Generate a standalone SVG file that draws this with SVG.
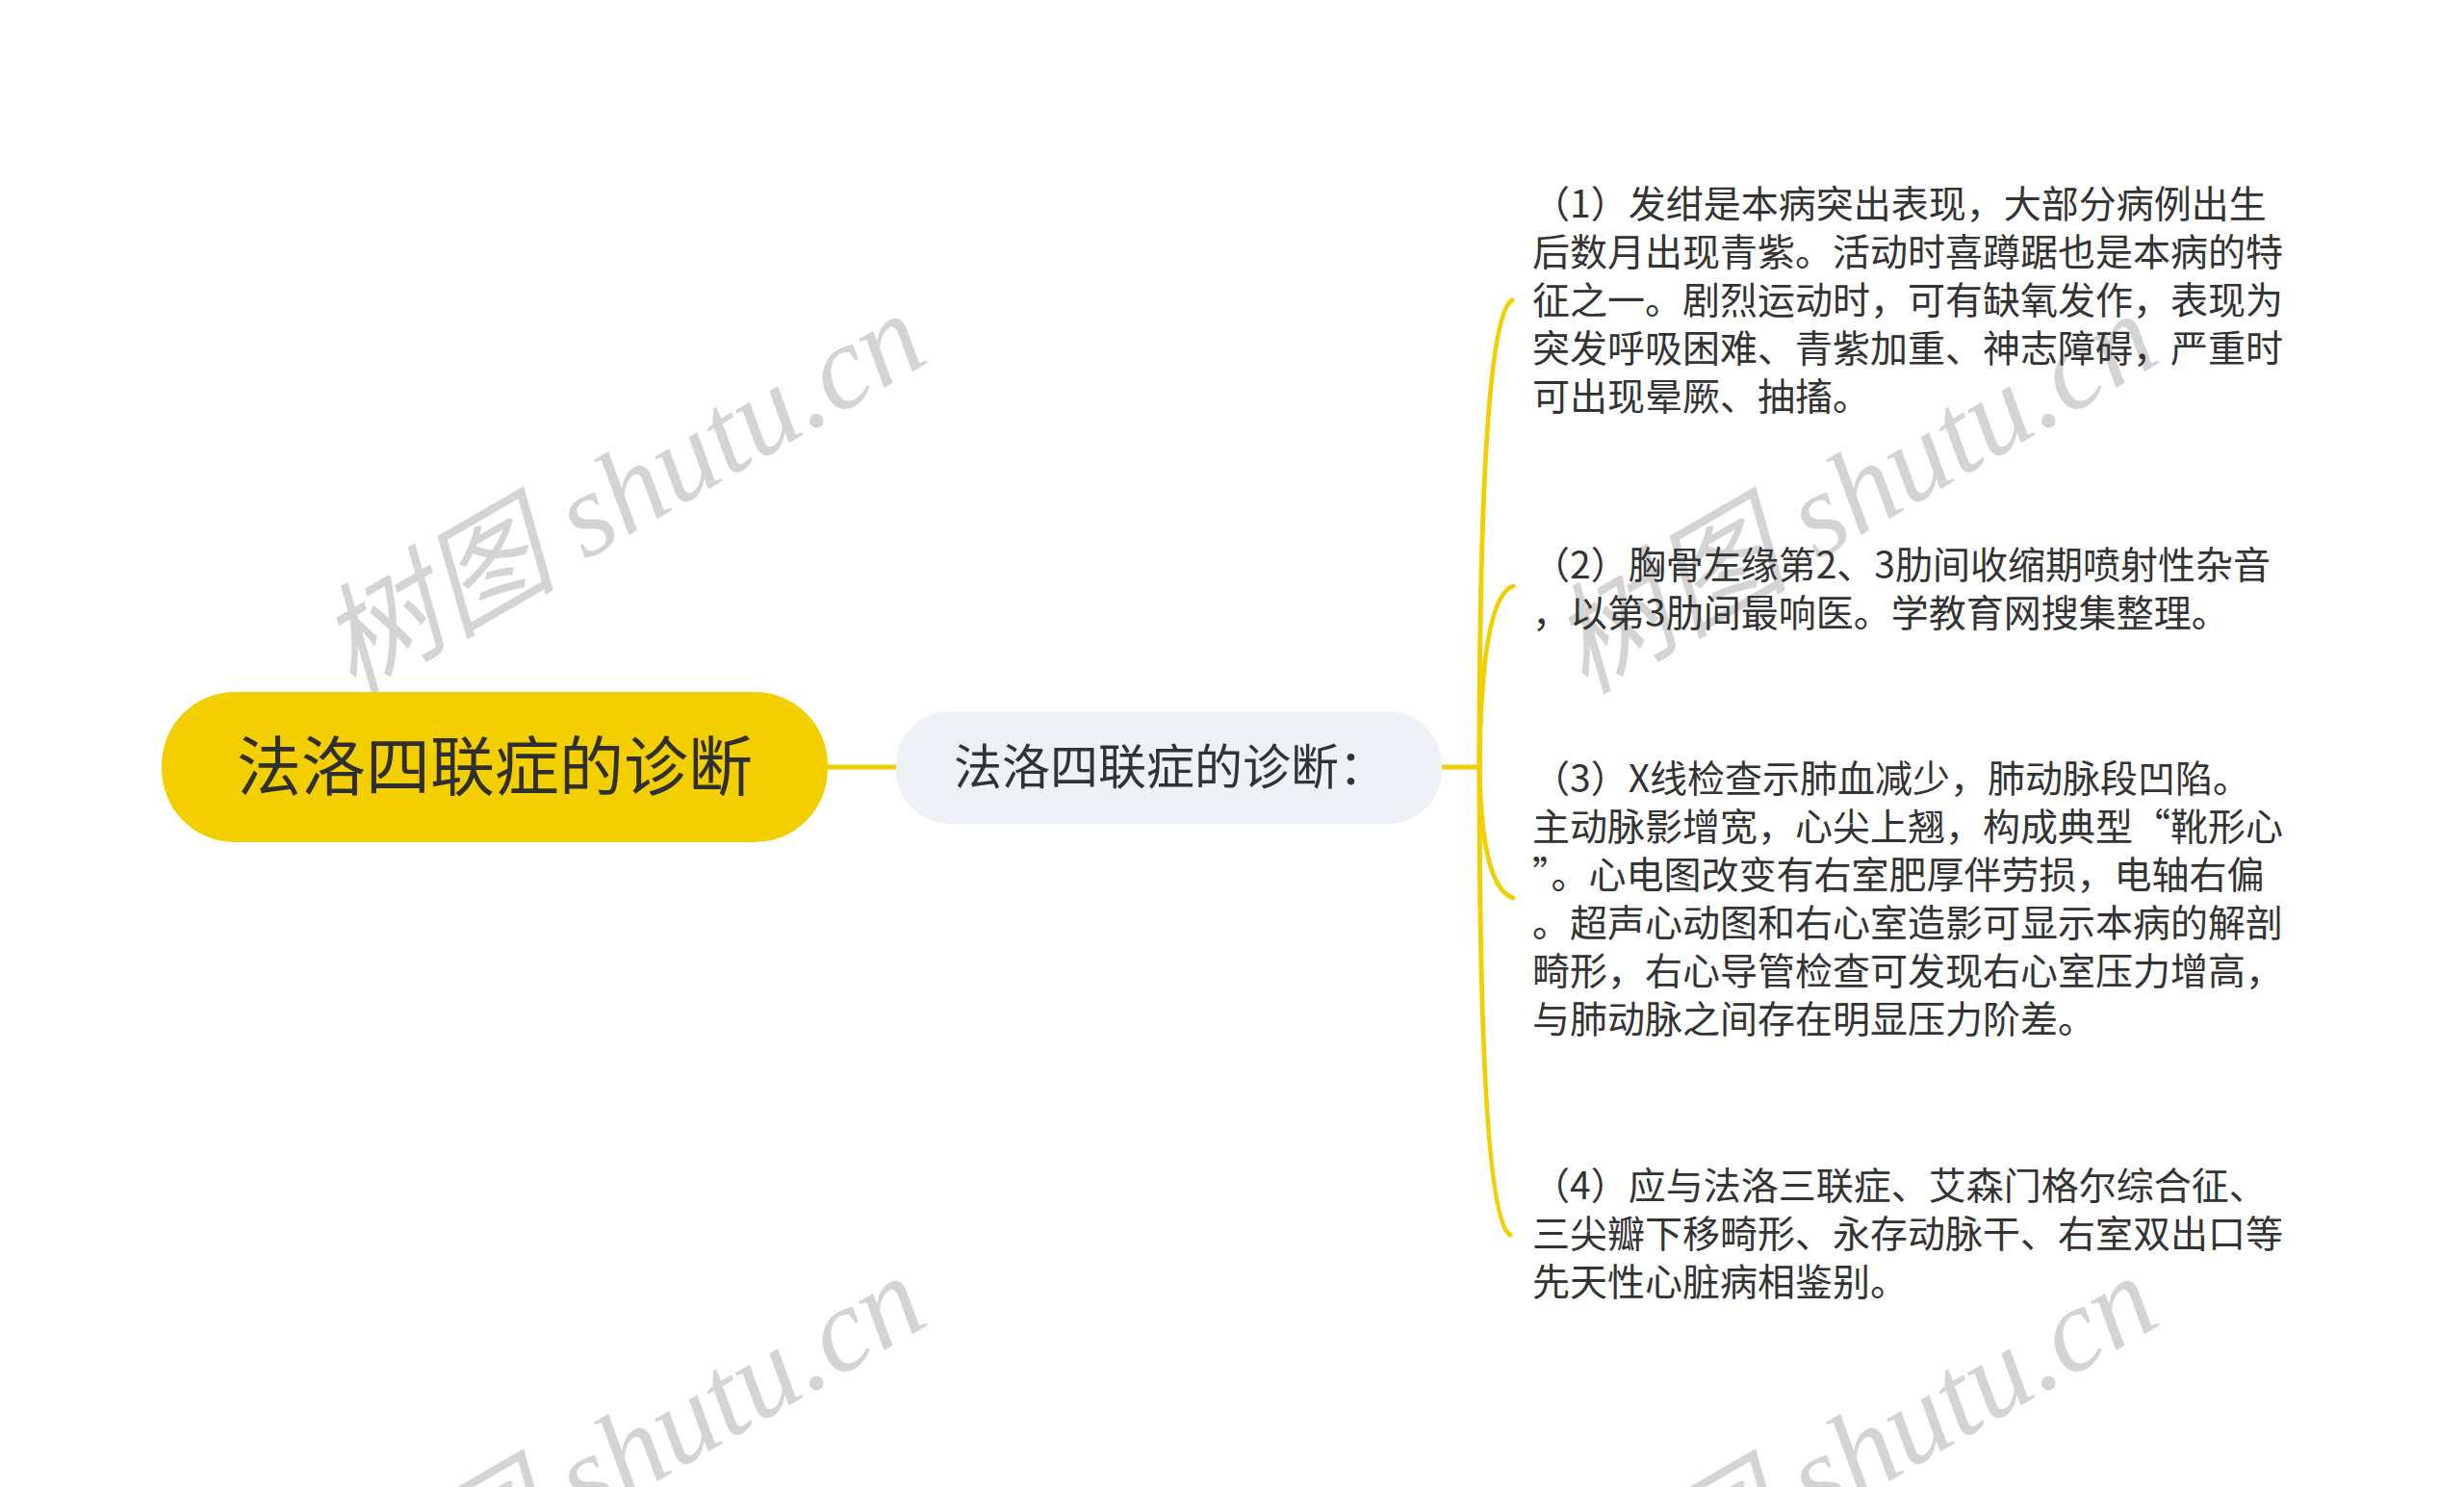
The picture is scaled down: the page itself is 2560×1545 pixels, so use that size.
<svg xmlns="http://www.w3.org/2000/svg" width="2560" height="1545" viewBox="0 0 2560 1545">
<style>
.wm{font-family:"Liberation Serif","Noto Sans CJK SC",serif;font-style:italic;font-size:124px;fill:#d4d4d4}
.conn{fill:none;stroke:#F4CF00;stroke-width:5;stroke-linecap:round}
.leaf{font-family:"Noto Sans CJK SC","Noto Sans",sans-serif;font-size:39px;fill:#333333}
.root{font-family:"Noto Sans CJK SC","Noto Sans",sans-serif;font-size:67px;fill:#2f2f2f}
.mid{font-family:"Noto Sans CJK SC","Noto Sans",sans-serif;font-size:50px;fill:#333333}
</style>
<rect x="0" y="0" width="2560" height="1545" fill="#ffffff"/>
<g id="watermarks">
<text class="wm" transform="translate(366,722) rotate(-30)">树图 shutu.cn</text>
<text class="wm" transform="translate(1646,722) rotate(-30)">树图 shutu.cn</text>
<text class="wm" transform="translate(366,1722) rotate(-30)">树图 shutu.cn</text>
<text class="wm" transform="translate(1646,1722) rotate(-30)">树图 shutu.cn</text>
</g>
<g id="connectors">
<path class="conn" d="M860 797 L931 797"/>
<path class="conn" d="M1498 797 L1537 797"/>
<path class="conn" d="M1537 797 Q1537 330 1571 312"/>
<path class="conn" d="M1537 797 Q1539 620 1572 609"/>
<path class="conn" d="M1537 797 Q1539 922 1572 933"/>
<path class="conn" d="M1537 797 Q1537 1265 1569 1283"/>
</g>
<g id="root">
<rect x="168" y="719" width="692" height="156" rx="76" ry="76" fill="#F4CF00"/>
<text class="root" x="514" y="821" text-anchor="middle">法洛四联症的诊断</text>
</g>
<g id="mid">
<rect x="931" y="739" width="567" height="117" rx="56" ry="56" fill="#EEF1F5"/>
<text class="mid" x="1216" y="815" text-anchor="middle">法洛四联症的诊断：</text>
</g>
<g id="leaf1">
<text class="leaf" x="1592" y="226">（1）发绀是本病突出表现，大部分病例出生</text>
<text class="leaf" x="1592" y="276">后数月出现青紫。活动时喜蹲踞也是本病的特</text>
<text class="leaf" x="1592" y="326">征之一。剧烈运动时，可有缺氧发作，表现为</text>
<text class="leaf" x="1592" y="376">突发呼吸困难、青紫加重、神志障碍，严重时</text>
<text class="leaf" x="1592" y="426">可出现晕厥、抽搐。</text>
</g>
<g id="leaf2">
<text class="leaf" x="1592" y="601">（2）胸骨左缘第2、3肋间收缩期喷射性杂音</text>
<text class="leaf" x="1592" y="651">，以第3肋间最响医。学教育网搜集整理。</text>
</g>
<g id="leaf3">
<text class="leaf" x="1592" y="823">（3）X线检查示肺血减少，肺动脉段凹陷。</text>
<text class="leaf" x="1592" y="873">主动脉影增宽，心尖上翘，构成典型“靴形心</text>
<text class="leaf" x="1592" y="923">”。心电图改变有右室肥厚伴劳损，电轴右偏</text>
<text class="leaf" x="1592" y="973">。超声心动图和右心室造影可显示本病的解剖</text>
<text class="leaf" x="1592" y="1023">畸形，右心导管检查可发现右心室压力增高，</text>
<text class="leaf" x="1592" y="1073">与肺动脉之间存在明显压力阶差。</text>
</g>
<g id="leaf4">
<text class="leaf" x="1592" y="1246">（4）应与法洛三联症、艾森门格尔综合征、</text>
<text class="leaf" x="1592" y="1296">三尖瓣下移畸形、永存动脉干、右室双出口等</text>
<text class="leaf" x="1592" y="1346">先天性心脏病相鉴别。</text>
</g>
</svg>
